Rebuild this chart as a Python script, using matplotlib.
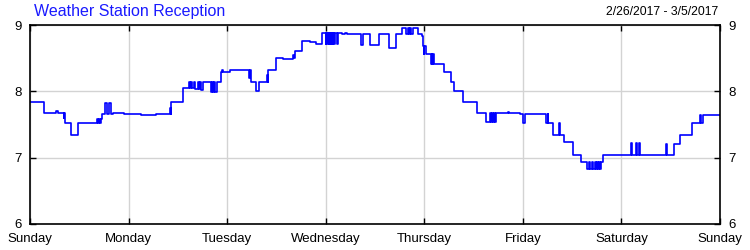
import matplotlib
matplotlib.use("Agg")
import matplotlib.pyplot as plt

plt.rcParams['font.family'] = ['Liberation Sans', 'DejaVu Sans']

title = "Weather Station Reception"
date_range = "2/26/2017 - 3/5/2017"
day_labels = ["Sunday", "Monday", "Tuesday", "Wednesday", "Thursday", "Friday", "Saturday", "Sunday"]
y_ticks = [6, 7, 8, 9]

# time in hours since Sunday 00:00, value after each change (step-post)
hours = [
    0, 3.48, 5.36, 6.45, 6.70, 8.21, 8.35, 8.47, 8.59, 10.06, 11.69,
    16.31, 16.56, 16.80, 17.04, 17.29, 17.53, 18.26, 18.82, 19.31, 19.79,
    20.21, 22.81, 27.03, 30.61, 33.97, 34.21, 34.45, 37.33,
    38.71, 38.91, 39.32, 39.52, 40.05, 40.25, 40.90, 41.10, 41.39, 41.59, 42.24,
    44.07, 44.31, 44.56, 44.80, 45.04, 45.46, 46.50, 46.75, 46.99, 48.70,
    53.40, 53.57, 53.81, 55.03, 55.76, 57.70, 57.88, 58.02, 59.82, 61.60,
    64.04, 64.28, 64.52, 66.15, 68.17, 69.64, 71.02,
    72.00, 72.17, 72.34, 72.51, 72.68, 72.85, 73.02, 73.19, 73.36, 73.53,
    73.70, 73.87, 74.04, 74.26, 74.68, 74.87, 75.89, 76.70, 77.30,
    80.52, 81.01, 82.78, 85.05, 86.68, 87.34, 89.11, 90.50, 91.55,
    92.04, 92.28, 92.64, 92.84, 93.33, 94.55, 95.52, 95.76, 95.93, 96.05, 96.34,
    97.56, 97.76, 97.93, 98.12, 98.29, 100.80, 102.51, 103.24, 105.35, 108.91,
    111.03, 112.00, 112.24, 112.41, 112.61, 112.97, 113.22, 113.46,
    116.38, 116.55, 119.31, 119.96, 120.52, 125.56, 126.05, 126.20, 127.27,
    128.80, 129.04, 130.02, 132.14, 134.16, 135.55, 136.18, 136.35, 136.91,
    137.08, 137.57, 137.74, 138.13, 138.30, 138.61, 138.78, 138.95, 139.59,
    146.26, 146.50, 147.48, 147.72, 148.35, 148.60, 154.85, 155.10, 156.87,
    158.26, 161.26, 163.13, 163.33, 163.94, 168.0,
]
reception = [
    7.84, 7.68, 7.67, 7.70, 7.67, 7.60, 7.67, 7.58, 7.53, 7.34, 7.53,
    7.59, 7.53, 7.59, 7.53, 7.59, 7.66, 7.83, 7.66, 7.83, 7.66,
    7.67, 7.66, 7.64, 7.66, 7.75, 7.66, 7.84, 8.05,
    8.14, 8.05, 8.14, 8.05, 8.14, 8.03, 8.14, 8.03, 8.14, 8.02, 8.14,
    7.99, 8.14, 7.99, 8.14, 7.99, 8.14, 8.29, 8.32, 8.29, 8.32,
    8.20, 8.32, 8.14, 8.00, 8.14, 8.25, 8.14, 8.32, 8.50, 8.49,
    8.55, 8.50, 8.61, 8.76, 8.74, 8.71, 8.88,
    8.72, 8.88, 8.72, 8.88, 8.72, 8.88, 8.72, 8.88, 8.72, 8.88,
    8.72, 8.88, 8.72, 8.88, 8.72, 8.88, 8.87, 8.88, 8.86,
    8.70, 8.87, 8.70, 8.87, 8.86, 8.65, 8.86, 8.96, 8.86,
    8.96, 8.86, 8.96, 8.86, 8.96, 8.86, 8.84, 8.68, 8.57, 8.68, 8.56,
    8.41, 8.56, 8.41, 8.56, 8.41, 8.29, 8.14, 8.00, 7.84, 7.68,
    7.54, 7.67, 7.54, 7.67, 7.54, 7.67, 7.54, 7.67,
    7.69, 7.67, 7.66, 7.53, 7.66, 7.53, 7.66, 7.53, 7.34,
    7.53, 7.34, 7.23, 7.04, 6.94, 6.83, 6.94, 6.83, 6.94,
    6.83, 6.94, 6.83, 6.94, 6.83, 6.94, 6.83, 6.94, 7.04,
    7.22, 7.04, 7.22, 7.04, 7.22, 7.04, 7.21, 7.04, 7.21,
    7.34, 7.52, 7.64, 7.53, 7.64, 7.64,
]

fig = plt.figure(figsize=(7.5, 2.5), dpi=100)
ax = fig.add_axes([0.04, 0.104, 0.92, 0.796])

days = [h / 24.0 for h in hours]
ax.plot(days, reception, drawstyle='steps-post', color='#0000ff', lw=1.2)

ax.set_xlim(0, 7)
ax.set_ylim(6, 9)
ax.set_xticks(range(8))
ax.set_xticklabels(day_labels)
ax.set_yticks(y_ticks)
ax.set_yticklabels([str(v) for v in y_ticks])
ax.grid(True, color='#d3d3d3', lw=1)
ax.set_axisbelow(True)
for s in ax.spines.values():
    s.set_color('black')
    s.set_linewidth(1.2)

ax.tick_params(axis='x', direction='in', length=4, width=1, top=True, labelsize=9.5, pad=6.5)
ax.tick_params(axis='y', direction='in', length=4, width=1, right=True, labelright=True,
               labelsize=9.5, pad=6)

fig.text(0.045, 0.955, title, color='#1a1aff', fontsize=11.5, ha='left', va='center')
fig.text(0.957, 0.952, date_range, color='black', fontsize=8.8, ha='right', va='center')

fig.savefig("out.png", dpi=100)
